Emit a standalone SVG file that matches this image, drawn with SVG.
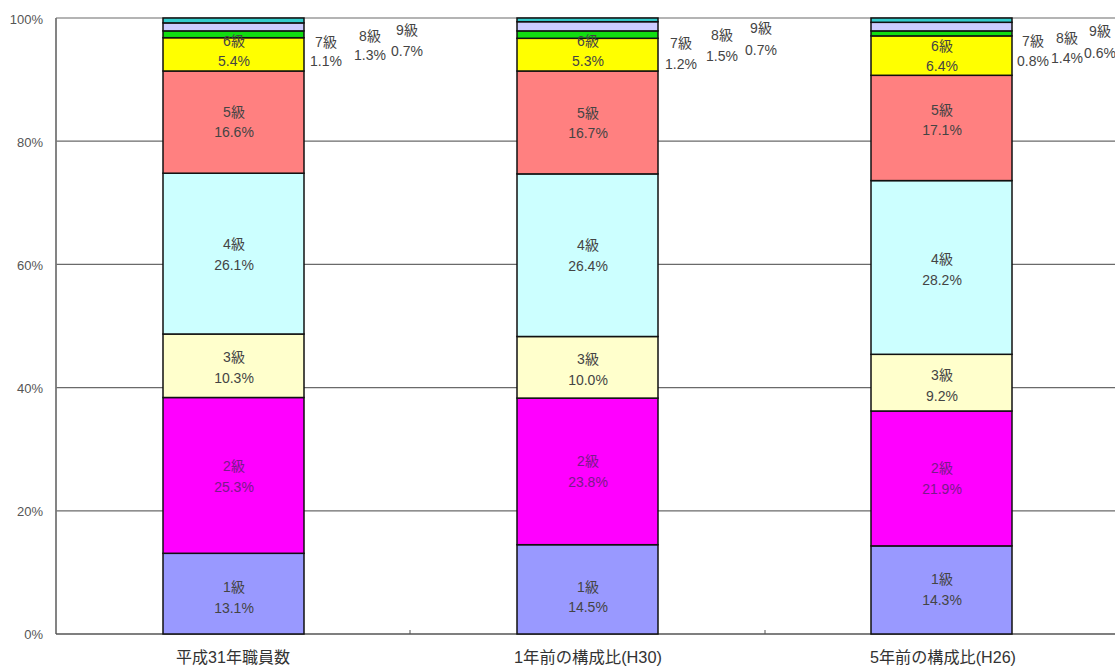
<svg xmlns="http://www.w3.org/2000/svg" width="1115" height="666" viewBox="0 0 1115 666">
<style>
text{font-family:"Liberation Sans","Noto Sans CJK JP",sans-serif;}
.ax{font-size:13px;fill:#555;text-anchor:end;dominant-baseline:central;}
.lb{font-size:14px;fill:#444;text-anchor:middle;dominant-baseline:central;}
.lbp{font-size:14px;fill:#7a1a8a;text-anchor:middle;dominant-baseline:central;}
.cat{font-size:16px;fill:#333;text-anchor:middle;}
.grid{stroke:#6a6a6a;stroke-width:1.2;fill:none;}
.seg{stroke:#111;stroke-width:1.5;}
.g1{fill:#9999FF}.g2{fill:#FF00FF}.g3{fill:#FFFFCC}.g4{fill:#CCFFFF}.g5{fill:#FF8080}.g6{fill:#FFFF00}.g7{fill:#11DD11}.g8{fill:#CCCCFF}.g9{fill:#33CCCC}
</style>
<rect width="1115" height="666" fill="#fff"/>
<g id="axes">
<line class="grid" x1="56" y1="18" x2="1115" y2="18"/>
<line class="grid" x1="56" y1="141.2" x2="1115" y2="141.2"/>
<line class="grid" x1="56" y1="264.4" x2="1115" y2="264.4"/>
<line class="grid" x1="56" y1="387.6" x2="1115" y2="387.6" stroke="#333"/>
<line class="grid" x1="56" y1="510.8" x2="1115" y2="510.8" stroke="#333"/>
<line x1="56" y1="18" x2="56" y2="634" stroke="#777" stroke-width="1.8"/>
<line x1="56" y1="634" x2="1115" y2="634" stroke="#555" stroke-width="1.6"/>
<line x1="410" y1="630" x2="410" y2="634" stroke="#555" stroke-width="1"/>
<line x1="765" y1="630" x2="765" y2="634" stroke="#555" stroke-width="1"/>
<text class="ax" x="43" y="19">100%</text>
<text class="ax" x="43" y="142">80%</text>
<text class="ax" x="43" y="265">60%</text>
<text class="ax" x="43" y="388">40%</text>
<text class="ax" x="43" y="511">20%</text>
<text class="ax" x="43" y="634">0%</text>
<text class="cat" x="233" y="663" textLength="114" lengthAdjust="spacingAndGlyphs">平成31年職員数</text>
<text class="cat" x="588" y="663" textLength="148" lengthAdjust="spacingAndGlyphs">1年前の構成比(H30)</text>
<text class="cat" x="943" y="663" textLength="146" lengthAdjust="spacingAndGlyphs">5年前の構成比(H26)</text>
</g>
<g id="connectors"></g>
<g id="bar1">
<g id="b1-g1"><rect class="seg g1" x="163" y="553.3" width="141" height="80.7"/><text class="lb" x="234" y="587">1級</text><text class="lb" x="234" y="608">13.1%</text></g>
<g id="b1-g2"><rect class="seg g2" x="163" y="397.5" width="141" height="155.8"/><text class="lbp" x="234" y="466">2級</text><text class="lbp" x="234" y="487">25.3%</text></g>
<g id="b1-g3"><rect class="seg g3" x="163" y="334" width="141" height="63.5"/><text class="lb" x="234" y="357">3級</text><text class="lb" x="234" y="378">10.3%</text></g>
<g id="b1-g4"><rect class="seg g4" x="163" y="173.2" width="141" height="160.8"/><text class="lb" x="234" y="244">4級</text><text class="lb" x="234" y="265">26.1%</text></g>
<g id="b1-g5"><rect class="seg g5" x="163" y="71" width="141" height="102.2"/><text class="lb" x="234" y="112">5級</text><text class="lb" x="234" y="132">16.6%</text></g>
<g id="b1-g6"><rect class="seg g6" x="163" y="37.7" width="141" height="33.3"/></g>
<g id="b1-g7"><rect class="seg g7" x="163" y="30.9" width="141" height="6.8"/><text class="lb" x="326" y="42">7級</text><text class="lb" x="326" y="61">1.1%</text></g>
<g id="b1-g8"><rect class="seg g8" x="163" y="22.9" width="141" height="8"/><text class="lb" x="370" y="36">8級</text><text class="lb" x="370" y="55">1.3%</text></g>
<g id="b1-g9"><rect class="seg g9" x="163" y="18" width="141" height="4.9"/><text class="lb" x="407" y="30">9級</text><text class="lb" x="407" y="51">0.7%</text></g>
<g id="b1-g6l"><text class="lb" x="234" y="41">6級</text><text class="lb" x="234" y="61">5.4%</text></g>
</g>
<g id="bar2">
<g id="b2-g1"><rect class="seg g1" x="517" y="544.7" width="141" height="89.3"/><text class="lb" x="588" y="587">1級</text><text class="lb" x="588" y="607">14.5%</text></g>
<g id="b2-g2"><rect class="seg g2" x="517" y="398.1" width="141" height="146.6"/><text class="lbp" x="588" y="461">2級</text><text class="lbp" x="588" y="482">23.8%</text></g>
<g id="b2-g3"><rect class="seg g3" x="517" y="336.5" width="141" height="61.6"/><text class="lb" x="588" y="359">3級</text><text class="lb" x="588" y="380">10.0%</text></g>
<g id="b2-g4"><rect class="seg g4" x="517" y="173.9" width="141" height="162.6"/><text class="lb" x="588" y="245">4級</text><text class="lb" x="588" y="266">26.4%</text></g>
<g id="b2-g5"><rect class="seg g5" x="517" y="71" width="141" height="102.9"/><text class="lb" x="588" y="113">5級</text><text class="lb" x="588" y="133">16.7%</text></g>
<g id="b2-g6"><rect class="seg g6" x="517" y="38.3" width="141" height="32.7"/></g>
<g id="b2-g7"><rect class="seg g7" x="517" y="30.9" width="141" height="7.4"/><text class="lb" x="681" y="43">7級</text><text class="lb" x="681" y="64">1.2%</text></g>
<g id="b2-g8"><rect class="seg g8" x="517" y="21.7" width="141" height="9.2"/><text class="lb" x="722" y="35">8級</text><text class="lb" x="722" y="56">1.5%</text></g>
<g id="b2-g9"><rect class="seg g9" x="517" y="18" width="141" height="3.7"/><text class="lb" x="761" y="28">9級</text><text class="lb" x="761" y="50">0.7%</text></g>
<g id="b2-g6l"><text class="lb" x="588" y="41">6級</text><text class="lb" x="588" y="61">5.3%</text></g>
</g>
<g id="bar3">
<g id="b3-g1"><rect class="seg g1" x="871" y="545.9" width="141" height="88.1"/><text class="lb" x="942" y="579">1級</text><text class="lb" x="942" y="600">14.3%</text></g>
<g id="b3-g2"><rect class="seg g2" x="871" y="411" width="141" height="134.9"/><text class="lbp" x="942" y="468">2級</text><text class="lbp" x="942" y="489">21.9%</text></g>
<g id="b3-g3"><rect class="seg g3" x="871" y="354.3" width="141" height="56.7"/><text class="lb" x="942" y="375">3級</text><text class="lb" x="942" y="396">9.2%</text></g>
<g id="b3-g4"><rect class="seg g4" x="871" y="180.6" width="141" height="173.7"/><text class="lb" x="942" y="259">4級</text><text class="lb" x="942" y="280">28.2%</text></g>
<g id="b3-g5"><rect class="seg g5" x="871" y="75.3" width="141" height="105.3"/><text class="lb" x="942" y="110">5級</text><text class="lb" x="942" y="130">17.1%</text></g>
<g id="b3-g6"><rect class="seg g6" x="871" y="35.9" width="141" height="39.4"/><text class="lb" x="942" y="46">6級</text><text class="lb" x="942" y="66">6.4%</text></g>
<g id="b3-g7"><rect class="seg g7" x="871" y="30.9" width="141" height="5"/><text class="lb" x="1033" y="41">7級</text><text class="lb" x="1033" y="61">0.8%</text></g>
<g id="b3-g8"><rect class="seg g8" x="871" y="22.3" width="141" height="8.6"/><text class="lb" x="1067" y="38">8級</text><text class="lb" x="1067" y="58">1.4%</text></g>
<g id="b3-g9"><rect class="seg g9" x="871" y="18" width="141" height="4.3"/><text class="lb" x="1100" y="31">9級</text><text class="lb" x="1100" y="53">0.6%</text></g>
</g>
</svg>
